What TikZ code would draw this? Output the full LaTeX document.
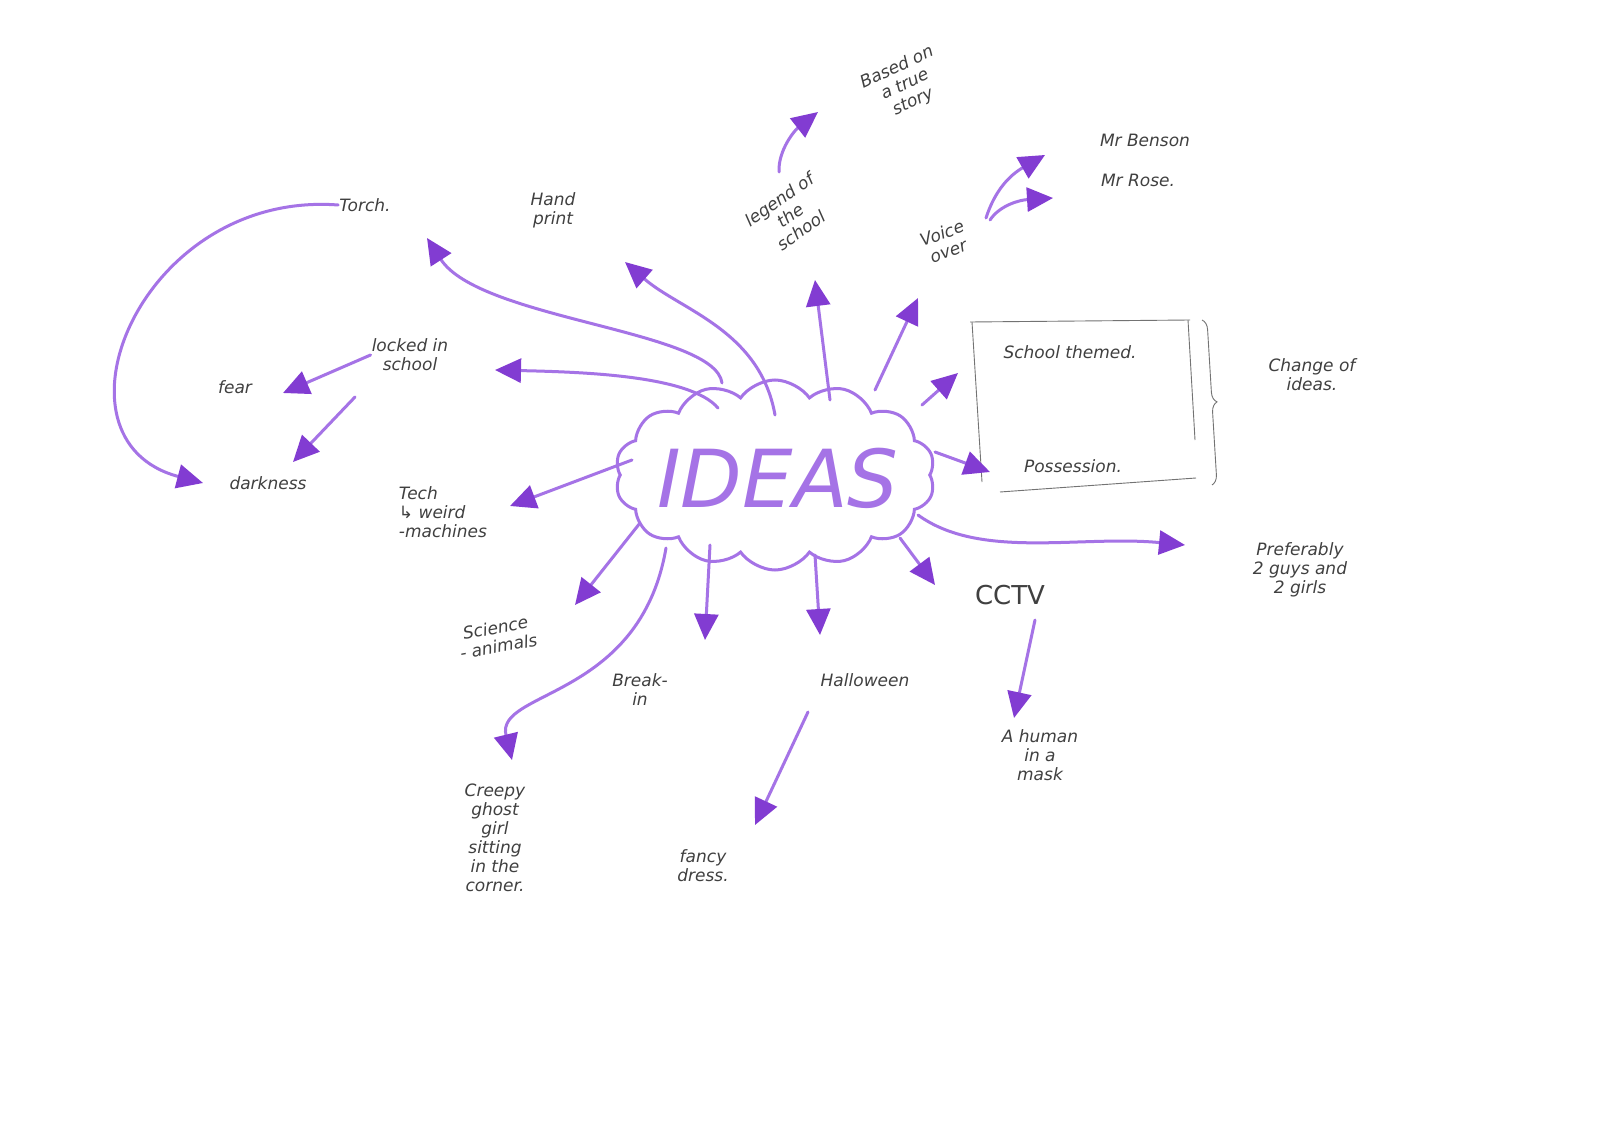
\documentclass[tikz,border=0pt]{standalone}
\usepackage{fontspec}
\setmainfont{DejaVu Sans}
\usetikzlibrary{shapes.symbols,arrows.meta,decorations.pathreplacing}
\definecolor{pl}{RGB}{165,115,230}
\definecolor{pd}{RGB}{130,60,210}
\begin{document}
\begin{tikzpicture}[x=1pt,y=-1pt,
  arr/.style={draw=pl,line width=3pt,line cap=round,-{Triangle[length=26pt,width=24pt,fill=pd,color=pd]}},
  lbl/.style={font=\fontsize{17}{19}\selectfont\itshape,text=black!75,align=center,inner sep=1pt},
  box/.style={draw=black!55,line width=0.9pt}]
\useasboundingbox (0,0) rectangle (1600,1131);
\fill[white] (0,0) rectangle (1600,1131);
% cloud
\node[cloud,cloud puffs=14,cloud puff arc=110,aspect=1.9,draw=pl,line width=3pt,minimum width=320pt,minimum height=190pt] (c) at (775,475) {};
\node[font=\fontsize{80}{80}\selectfont\itshape,text=pl] (ideas) at (778,478) {IDEAS};
% labels
\node[lbl] (torch) at (365,205) {Torch.};
\node[lbl] (hand) at (553,210) {Hand\\print};
\node[lbl,rotate=35] (legend) at (790,215) {legend of\\the\\school};
\node[lbl,rotate=25] (based) at (905,85) {Based on\\a true\\story};
\node[lbl,rotate=20] (voice) at (945,242) {Voice\\over};
\node[lbl] (benson) at (1145,140) {Mr Benson};
\node[lbl] (rose) at (1138,180) {Mr Rose.};
\node[lbl] (school) at (1070,352) {School themed.};
\node[lbl] (poss) at (1073,466) {Possession.};
\node[lbl] (change) at (1312,375) {Change of\\ideas.};
\node[lbl] (locked) at (410,355) {locked in\\school};
\node[lbl] (fear) at (235,387) {fear};
\node[lbl] (dark) at (268,483) {darkness};
\node[lbl,align=left] (tech) at (443,512) {Tech\\↳ weird\\ -machines};
\node[lbl,rotate=10] (sci) at (497,637) {Science\\- animals};
\node[lbl] (break) at (640,690) {Break-\\in};
\node[lbl] (hall) at (865,680) {Halloween};
\node[lbl,font=\fontsize{26}{28}\selectfont] (cctv) at (1010,595) {CCTV};
\node[lbl] (human) at (1040,755) {A human\\in a\\mask};
\node[lbl] (pref) at (1300,570) {Preferably\\2 guys and\\2 girls};
\node[lbl] (creepy) at (495,838) {Creepy\\ghost\\girl\\sitting\\in the\\corner.};
\node[lbl] (fancy) at (703,866) {fancy\\dress.};
% box and brace
\draw[box] (970,322) -- (1190,320);
\draw[box] (972,322) -- (982,482);
\draw[box] (1188,320) -- (1195,440);
\draw[box] (1000,492) -- (1196,478);
\draw[box,decorate,decoration={brace,amplitude=10pt}] (1202,320) -- (1212,485);
% coordinates
\coordinate (t1) at (427,238); \coordinate (t2) at (625,262);
\coordinate (t3) at (815,280); \coordinate (t4) at (918,298);
\coordinate (t5) at (958,373); \coordinate (t6) at (990,472);
\coordinate (t7) at (1185,545); \coordinate (t8) at (935,585);
\coordinate (t9) at (820,635); \coordinate (t10) at (705,640);
\coordinate (t11) at (575,605); \coordinate (t12) at (512,760);
\coordinate (t13) at (510,506); \coordinate (t14) at (495,370);
% center arrows
\draw[arr] (722,383) .. controls (715,330) and (480,320) .. (t1);
\draw[arr] (775,415) .. controls (760,330) and (680,310) .. (t2);
\draw[arr] (830,400) -- (t3);
\draw[arr] (875,390) -- (t4);
\draw[arr] (922,405) -- (t5);
\draw[arr] (935,452) -- (t6);
\draw[arr] (918,515) .. controls (980,560) and (1080,535) .. (t7);
\draw[arr] (900,538) -- (t8);
\draw[arr] (815,555) -- (t9);
\draw[arr] (710,545) -- (t10);
\draw[arr] (640,523) -- (t11);
\draw[arr] (666,548) .. controls (640,700) and (495,690) .. (t12);
\draw[arr] (632,460) -- (t13);
\draw[arr] (718,408) .. controls (690,375) and (580,372) .. (t14);
% secondary arrows
\draw[arr] (locked.west) -- (283,393);
\draw[arr] (355,397) -- (293,462);
\draw[arr] (torch.west) .. controls (140,190) and (40,440) .. (203,483);
\draw[arr] (779,172) .. controls (778,150) and (795,130) .. (818,112);
\draw[arr] (986,218) .. controls (995,190) and (1010,175) .. (1045,155);
\draw[arr] (990,220) .. controls (1000,205) and (1020,200) .. (1053,198);
\draw[arr] (1035,620) -- (1014,718);
\draw[arr] (808,712) -- (755,825);
\end{tikzpicture}
\end{document}
